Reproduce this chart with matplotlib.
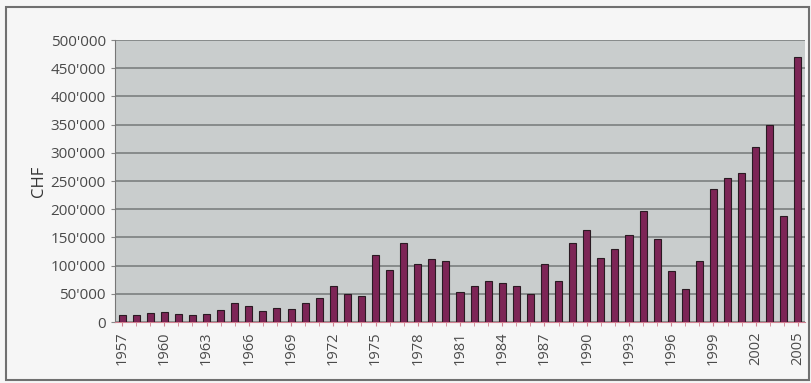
import matplotlib.pyplot as plt
from matplotlib.ticker import FuncFormatter
from matplotlib.patches import Rectangle

years = list(range(1957, 2006))
chf = [12000, 12000, 16000, 17000, 15000, 12000, 14000, 21000, 33000, 28000,
       20000, 25000, 23000, 33000, 43000, 63000, 49000, 46000, 118000, 93000,
       140000, 102000, 111000, 109000, 53000, 63000, 72000, 69000, 63000, 49000,
       102000, 72000, 140000, 163000, 114000, 129000, 155000, 197000, 147000, 90000,
       59000, 108000, 235000, 255000, 265000, 311000, 350000, 188000, 469000]
label_years = years[::3]


def swiss(v, pos):
    return f"{int(v):,}".replace(",", "'")


plt.rcParams['font.family'] = ['Open Sans', 'DejaVu Sans']

fig = plt.figure(figsize=(8.11, 3.83), dpi=100, facecolor='#f6f6f6')
fig.patches.append(Rectangle((0.008, 0.008), 0.99, 0.975, transform=fig.transFigure,
                             fill=False, edgecolor='#707070', linewidth=1.5))

ax = fig.add_axes([115 / 811, 61 / 383, 690 / 811, 282 / 383])
ax.set_facecolor('#c9cdcd')
ax.bar(years, chf, width=0.5, color='#7d2556', edgecolor='#2a1a22', linewidth=0.8, zorder=3)

ax.set_xlim(years[0] - 0.5, years[-1] + 0.5)
ax.set_ylim(0, 500000)
ax.set_yticks(range(0, 500001, 50000))
ax.yaxis.set_major_formatter(FuncFormatter(swiss))
ax.grid(axis='y', color='#7c7f7f', linewidth=1.2, zorder=1)

ax.set_xticks(label_years)
ax.set_xticklabels([str(y) for y in label_years], rotation=90)
ax.set_xticks(years, minor=True)
ax.tick_params(axis='x', which='both', length=3, color='#d08090', labelsize=10.5,
               labelcolor='#4a4a4a', pad=4)
ax.tick_params(axis='y', length=3, color='#888888', labelsize=11, labelcolor='#4a4a4a')

for side in ['top', 'right']:
    ax.spines[side].set_visible(False)
ax.spines['left'].set_color('#777777')
ax.spines['bottom'].set_color('#d08090')
ax.set_ylabel('CHF', fontsize=12, color='#333333', labelpad=3)

fig.savefig('out.png', dpi=100, facecolor=fig.get_facecolor())
